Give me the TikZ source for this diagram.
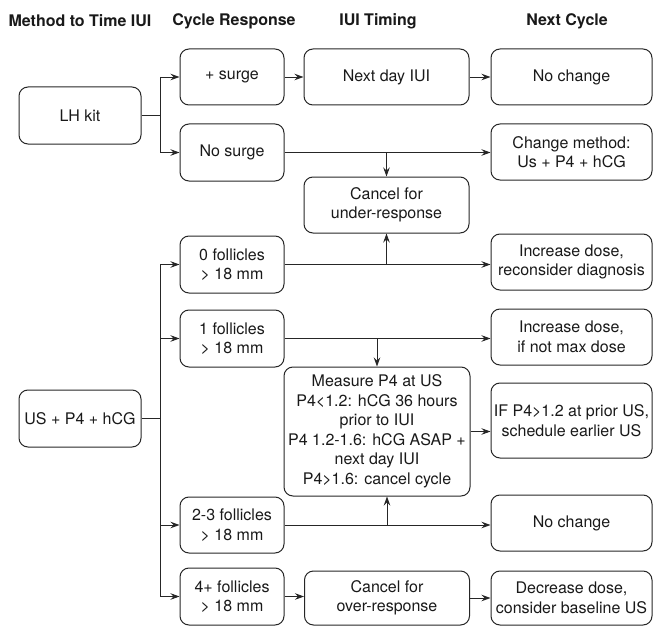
\documentclass[tikz,border=0pt]{standalone}
\usepackage{fontspec}
\setmainfont{TeX Gyre Heros}
\usetikzlibrary{arrows.meta}
\begin{document}
\begin{tikzpicture}[x=1pt,y=-1pt,
 box/.style={draw=black!85, line width=1pt, rounded corners=9pt, inner sep=0pt, align=center, text=black!90, font=\fontsize{16}{19.5}\selectfont},
 hdr/.style={text=black!90, font=\fontsize{16}{19.5}\selectfont\bfseries},
 conn/.style={draw=black!85, line width=0.9pt},
 arr/.style={conn, -{Stealth[length=9pt,width=6.5pt,inset=3pt]}}]
\useasboundingbox (0,0) rectangle (654,626);
% headers
\node[hdr] (h1) at (80,21) {Method to Time IUI};
\node[hdr] (h2) at (234,21) {Cycle Response};
\node[hdr] (h3) at (378,21) {IUI Timing};
\node[hdr] (h4) at (567,21) {Next Cycle};
% column 1
\node[box, minimum width=122pt, minimum height=57pt] (lh) at (80,115.5) {LH kit};
\node[box, minimum width=122pt, minimum height=57pt] (us) at (80,418.5) {US + P4 + hCG};
% column 2
\node[box, minimum width=104pt, minimum height=56pt] (surge) at (232,77) {+ surge};
\node[box, minimum width=104pt, minimum height=57pt] (nosurge) at (232,152.5) {No surge};
\node[box, minimum width=104pt, minimum height=57pt] (f0) at (232,264.5) {0 follicles\\> 18 mm};
\node[box, minimum width=104pt, minimum height=57pt] (f1) at (232,338.5) {1 follicles\\> 18 mm};
\node[box, minimum width=104pt, minimum height=56pt] (f23) at (232,525) {2-3 follicles\\> 18 mm};
\node[box, minimum width=104pt, minimum height=57pt] (f4) at (232,596.5) {4+ follicles\\> 18 mm};
% column 3
\node[box, minimum width=165pt, minimum height=56pt] (nd) at (386.5,77) {Next day IUI};
\node[box, minimum width=165pt, minimum height=56pt] (cu) at (386.5,205) {Cancel for\\under-response};
\node[box, minimum width=186pt, minimum height=129pt] (meas) at (377,431.5) {Measure P4 at US\\P4<1.2: hCG 36 hours\\prior to IUI\\P4 1.2-1.6: hCG ASAP +\\next day IUI\\P4>1.6: cancel cycle};
\node[box, minimum width=165pt, minimum height=54pt] (co) at (387,598) {Cancel for\\over-response};
% column 4
\node[box, minimum width=161pt, minimum height=56pt] (nc1) at (571.5,77) {No change};
\node[box, minimum width=161pt, minimum height=56pt] (cm) at (571.5,152) {Change method:\\Us + P4 + hCG};
\node[box, minimum width=161pt, minimum height=56pt] (id1) at (571.5,262) {Increase dose,\\reconsider diagnosis};
\node[box, minimum width=161pt, minimum height=56pt] (id2) at (571.5,337) {Increase dose,\\if not max dose};
\node[box, minimum width=161pt, minimum height=75pt] (ifp) at (571.5,420.5) {IF P4>1.2 at prior US,\\schedule earlier US};
\node[box, minimum width=161pt, minimum height=56pt] (nc2) at (571.5,523) {No change};
\node[box, minimum width=161pt, minimum height=54pt] (dd) at (571.5,598) {Decrease dose,\\consider baseline US};
% junction coordinates
\coordinate (j) at (160,0);
\coordinate (m2) at (387,0);
% LH kit branch
\draw[conn] (lh.east) -- (lh.east -| j);
\draw[conn] (surge.west -| j) -- (nosurge.west -| j);
\draw[arr] (surge.west -| j) -- (surge.west);
\draw[arr] (nosurge.west -| j) -- (nosurge.west);
\draw[arr] (surge.east) -- (nd.west);
\draw[arr] (nd.east) -- (nc1.west);
\draw[arr] (nosurge.east) -- (nosurge.east -| cm.west);
\draw[arr] (cu.north |- nosurge.east) -- (cu.north);
% US branch
\draw[conn] (us.east) -- (us.east -| j);
\draw[conn] (f0.west -| j) -- (f4.west -| j);
\draw[arr] (f0.west -| j) -- (f0.west);
\draw[arr] (f1.west -| j) -- (f1.west);
\draw[arr] (f23.west -| j) -- (f23.west);
\draw[arr] (f4.west -| j) -- (f4.west);
\draw[arr] (f0.east) -- (f0.east -| id1.west);
\draw[arr] (cu.south |- f0.east) -- (cu.south);
\draw[arr] (f1.east) -- (f1.east -| id2.west);
\draw[arr] (meas.north |- f1.east) -- (meas.north);
\draw[arr] (meas.east) -- (meas.east -| ifp.west);
\draw[arr] (f23.east) -- (f23.east -| nc2.west);
\draw[arr] (f23.east -| m2) -- (meas.south -| m2);
\draw[arr] (f4.east) -- (f4.east -| co.west);
\draw[arr] (co.east) -- (co.east -| dd.west);
\end{tikzpicture}
\end{document}
